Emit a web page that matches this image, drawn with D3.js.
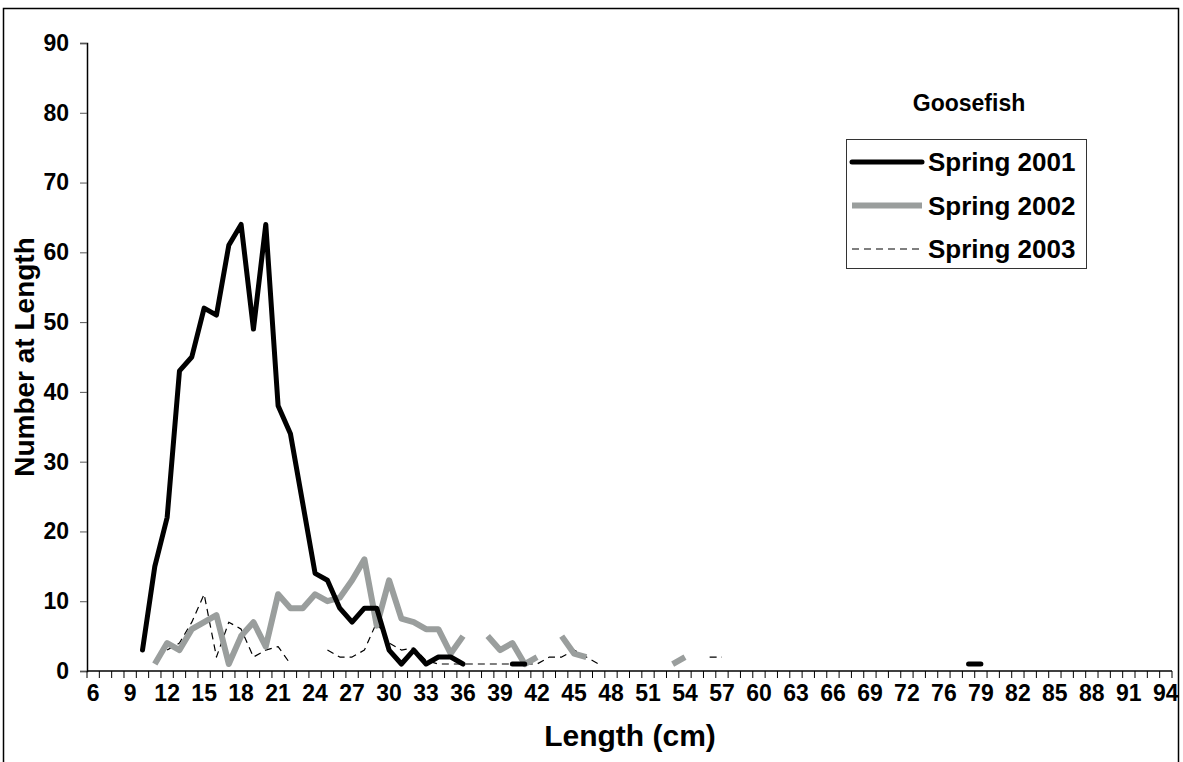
<!DOCTYPE html>
<html>
<head>
<meta charset="utf-8">
<title>Goosefish</title>
<script src="https://cdn.jsdelivr.net/npm/d3@7"></script>
<style>
  body { margin: 0; background: #fff; }
  svg { display: block; font-family: "Liberation Sans", Arial, sans-serif; }
  .axis text { font-weight: bold; fill: #000; }
</style>
</head>
<body>
<div id="chartdiv"></div>
<script>
/*global d3 */

//length categories on the x axis (74 is absent in the source table)
var lengths = [6, 7, 8, 9, 10, 11, 12, 13, 14, 15, 16, 17, 18, 19, 20, 21,
               22, 23, 24, 25, 26, 27, 28, 29, 30, 31, 32, 33, 34, 35, 36,
               37, 38, 39, 40, 41, 42, 43, 44, 45, 46, 47, 48, 49, 50, 51,
               52, 53, 54, 55, 56, 57, 58, 59, 60, 61, 62, 63, 64, 65, 66,
               67, 68, 69, 70, 71, 72, 73, 75, 76, 77, 78, 79, 80, 81, 82,
               83, 84, 85, 86, 87, 88, 89, 90, 91, 92, 93, 94];
var yTicks = [0, 10, 20, 30, 40, 50, 60, 70, 80, 90];

//[length, number] pairs, null marks a break in the line
var spring2001 = [[10, 3], [11, 15], [12, 22], [13, 43], [14, 45], [15, 52],
                  [16, 51], [17, 61], [18, 64], [19, 49], [20, 64], [21, 38],
                  [22, 34], [23, 24], [24, 14], [25, 13], [26, 9], [27, 7],
                  [28, 9], [29, 9], [30, 3], [31, 1], [32, 3], [33, 1],
                  [34, 2], [35, 2], [36, 1], [37, null], [40, 1], [41, 1],
                  [42, null], [78, 1], [79, 1]];
var spring2002 = [[11, 1], [12, 4], [13, 3], [14, 6], [15, 7], [16, 8],
                  [17, 1], [18, 5], [19, 7], [20, 3.5], [21, 11], [22, 9],
                  [23, 9], [24, 11], [25, 10], [26, 10.5], [27, 13], [28, 16],
                  [29, 6.5], [30, 13], [31, 7.5], [32, 7], [33, 6], [34, 6],
                  [35, 2.5], [36, 5], [37, null], [38, 5], [39, 3], [40, 4],
                  [41, 1], [42, 2], [43, null], [44, 5], [45, 2.5], [46, 2],
                  [47, null], [53, 1], [54, 2]];
var spring2003 = [[12, 3], [13, 4], [14, 7], [15, 11], [16, 2], [17, 7],
                  [18, 6], [19, 2], [20, 3], [21, 3.5], [22, 1], [23, null],
                  [25, 3], [26, 2], [27, 2], [28, 3], [29, 7], [30, 4],
                  [31, 3], [32, 3.3], [33, 1.5], [34, 1], [35, 1], [36, 1],
                  [37, 1], [38, 1], [39, 1], [40, 1], [41, 1], [42, 1],
                  [43, 2], [44, 2], [45, 3], [46, 2], [47, 1], [48, null],
                  [56, 2], [57, 2]];
var seriesNames = ["Spring 2001", "Spring 2002", "Spring 2003"];

(function () {
    "use strict";

    var ch = {w: 1183, h: 762},
        plot = {left: 87, right: 1172, top: 43, bottom: 671},
        styles, svg, x, y, line, xLabelAxis, legend;

    styles = [
        {data: spring2001, color: "#000", width: 5, dash: null, cap: "round"},
        {data: spring2002, color: "#9a9e9d", width: 6, dash: null, cap: "butt"},
        {data: spring2003, color: "#000", width: 1.2, dash: "7,5", cap: "butt"}];

    svg = d3.select("#chartdiv").append("svg")
        .attr("width", ch.w)
        .attr("height", ch.h);

    //chart area border
    svg.append("rect")
        .attr("x", 3.5).attr("y", 8.5)
        .attr("width", 1175).attr("height", 800)
        .attr("fill", "none")
        .attr("stroke", "#000")
        .attr("stroke-width", 1.5);

    x = d3.scaleBand().domain(lengths)
        .range([plot.left, plot.right]).padding(0);
    y = d3.scaleLinear().domain([0, 90])
        .range([plot.bottom, plot.top]);

    //y axis
    svg.append("g")
        .attr("class", "axis axis--y")
        .attr("transform", "translate(" + plot.left + ",0)")
        .call(d3.axisLeft(y).tickValues(yTicks).tickSize(7).tickPadding(11))
        .call(function (g) {
            g.select(".domain").attr("stroke-width", 1.5);
            g.selectAll(".tick line").attr("stroke", "#555");
            g.selectAll("text").attr("font-size", 23); });

    //x axis: line and a tick at every category boundary
    svg.append("g")
        .attr("class", "axis axis--x")
        .selectAll("line")
        .data(lengths.concat(["end"]))
        .enter().append("line")
        .attr("x1", function (d) {
            return d === "end" ? plot.right : x(d); })
        .attr("x2", function (d) {
            return d === "end" ? plot.right : x(d); })
        .attr("y1", plot.bottom)
        .attr("y2", plot.bottom + 7)
        .attr("stroke", "#000");
    svg.append("line")
        .attr("x1", plot.left).attr("x2", plot.right)
        .attr("y1", plot.bottom).attr("y2", plot.bottom)
        .attr("stroke", "#000").attr("stroke-width", 1.5);

    //labels on every third category
    xLabelAxis = d3.axisBottom(x)
        .tickValues(lengths.filter(function (d, i) { return i % 3 === 0; }))
        .tickSize(0).tickPadding(14);
    svg.append("g")
        .attr("class", "axis")
        .attr("transform", "translate(0," + plot.bottom + ")")
        .call(xLabelAxis)
        .call(function (g) {
            g.select(".domain").remove();
            g.selectAll("text").attr("font-size", 23); });

    //axis titles
    svg.append("text")
        .attr("x", 630)
        .attr("y", 746)
        .attr("text-anchor", "middle")
        .attr("font-weight", "bold")
        .attr("font-size", 30)
        .text("Length (cm)");
    svg.append("text")
        .attr("transform", "translate(34," + ((plot.top + plot.bottom) / 2) +
                           ") rotate(-90)")
        .attr("text-anchor", "middle")
        .attr("font-weight", "bold")
        .attr("font-size", 28)
        .text("Number at Length");

    //series lines
    line = d3.line()
        .defined(function (d) { return d[1] !== null; })
        .x(function (d) { return x(d[0]) + x.bandwidth() / 2; })
        .y(function (d) { return y(d[1]); });
    svg.append("g").selectAll("path")
        .data(styles.slice().reverse())
        .enter().append("path")
        .attr("d", function (s) { return line(s.data); })
        .attr("fill", "none")
        .attr("stroke", function (s) { return s.color; })
        .attr("stroke-width", function (s) { return s.width; })
        .attr("stroke-dasharray", function (s) { return s.dash; })
        .attr("stroke-linecap", function (s) { return s.cap; })
        .attr("stroke-linejoin", "round");

    //title and legend
    svg.append("text")
        .attr("x", 969).attr("y", 111)
        .attr("text-anchor", "middle")
        .attr("font-weight", "bold")
        .attr("font-size", 23)
        .text("Goosefish");
    legend = svg.append("g").attr("transform", "translate(846,139)");
    legend.append("rect")
        .attr("x", 0.5).attr("y", 0.5)
        .attr("width", 240).attr("height", 129)
        .attr("fill", "#fff")
        .attr("stroke", "#333");
    legend.selectAll("g.entry")
        .data(styles)
        .enter().append("g")
        .attr("class", "entry")
        .attr("transform", function (s, i) {
            return "translate(0," + (23 + i * 43.5) + ")"; })
        .each(function (s, i) {
            var g = d3.select(this);
            g.append("line")
                .attr("x1", 6).attr("x2", 76)
                .attr("stroke", s.color)
                .attr("stroke-width", s.width)
                .attr("stroke-dasharray", s.dash)
                .attr("stroke-linecap", s.cap);
            g.append("text")
                .attr("x", 82).attr("y", 9)
                .attr("font-weight", "bold")
                .attr("font-size", 26)
                .text(seriesNames[i]); });
}());
</script>
</body>
</html>
